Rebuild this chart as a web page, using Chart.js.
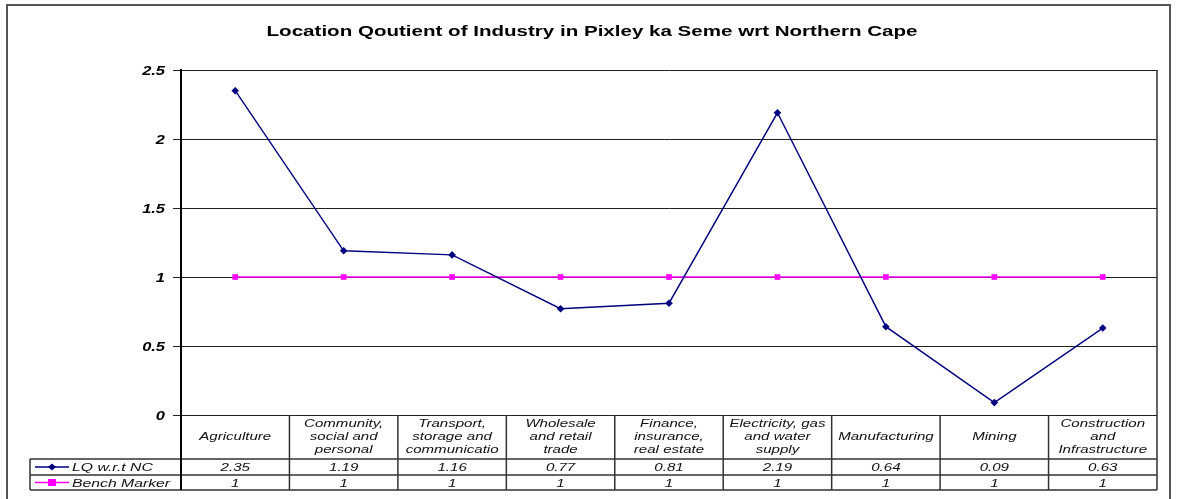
<!DOCTYPE html>
<html>
<head>
<meta charset="utf-8">
<script src="https://cdn.jsdelivr.net/npm/chart.js@4/dist/chart.umd.min.js"></script>
<style>
html,body{margin:0;padding:0;background:#fff;}
canvas{display:block;}
</style>
</head>
<body>
<canvas id="c" width="1178" height="499"></canvas>
<script>
const chartTitle = "Location Qoutient of Industry in Pixley ka Seme wrt Northern Cape";
const categories = ["Agriculture", "Community, social and personal", "Transport, storage and communicatio", "Wholesale and retail trade", "Finance, insurance, real estate", "Electricity, gas and water supply", "Manufacturing", "Mining", "Construction and Infrastructure"];
const categoryLines = [["Agriculture"], ["Community,", "social and", "personal"], ["Transport,", "storage and", "communicatio"], ["Wholesale", "and retail", "trade"], ["Finance,", "insurance,", "real estate"], ["Electricity, gas", "and water", "supply"], ["Manufacturing"], ["Mining"], ["Construction", "and", "Infrastructure"]];
const lqValues = [2.35, 1.19, 1.16, 0.77, 0.81, 2.19, 0.64, 0.09, 0.63];
const lqLabels = ["2.35", "1.19", "1.16", "0.77", "0.81", "2.19", "0.64", "0.09", "0.63"];
const benchValues = [1, 1, 1, 1, 1, 1, 1, 1, 1];
const seriesNames = ["LQ w.r.t NC", "Bench Marker"];
const yTicks = [0, 0.5, 1, 1.5, 2, 2.5];
const yTickLabels = ["0", "0.5", "1", "1.5", "2", "2.5"];

const FONT = "'Liberation Sans', Arial, sans-serif";
const LQ_COLOR = "#000080";
const BENCH_COLOR = "#FF00FF";
const SX = 1.37;

function sText(ctx, text, x, y, align) {
  ctx.save();
  ctx.translate(x, y);
  ctx.scale(SX, 1);
  ctx.textAlign = align;
  ctx.textBaseline = 'middle';
  ctx.fillText(text, 0, 0);
  ctx.restore();
}

const tablePlugin = {
  id: 'tablePlugin',
  afterDraw(chart) {
    const ctx = chart.ctx;
    const ca = chart.chartArea;
    const x = chart.scales.x;
    const y = chart.scales.y;
    const n = categories.length;
    const colW = (ca.right - ca.left) / n;
    const rowTop = ca.bottom, row1 = ca.bottom + 44, row2 = row1 + 16, row3 = row2 + 15;
    const legLeft = 30;
    ctx.save();
    // outer frame
    ctx.strokeStyle = '#555';
    ctx.lineWidth = 2;
    ctx.strokeRect(7, 5, 1163, 520);
    // title
    ctx.fillStyle = '#000';
    ctx.font = "bold 15px " + FONT;
    sText(ctx, chartTitle, 592, 32, 'center');
    // y tick labels
    ctx.font = "italic bold 12px " + FONT;
    yTicks.forEach((v, i) => sText(ctx, yTickLabels[i], 165, y.getPixelForValue(v) + 2, 'right'));
    // right border of plot
    ctx.strokeStyle = '#333';
    ctx.lineWidth = 1.5;
    ctx.beginPath();
    ctx.moveTo(ca.right, ca.top); ctx.lineTo(ca.right, row3);
    ctx.stroke();
    // table lines
    ctx.beginPath();
    for (let i = 1; i < n; i++) {
      const xx = ca.left + i * colW;
      ctx.moveTo(xx, rowTop); ctx.lineTo(xx, row3);
    }
    ctx.moveTo(legLeft, row1); ctx.lineTo(ca.right, row1);
    ctx.moveTo(legLeft, row2); ctx.lineTo(ca.right, row2);
    ctx.moveTo(legLeft, row3); ctx.lineTo(ca.right, row3);
    ctx.moveTo(legLeft, row1); ctx.lineTo(legLeft, row3);
    ctx.stroke();
    ctx.strokeStyle = '#000';
    ctx.lineWidth = 2;
    ctx.beginPath();
    ctx.moveTo(ca.left, rowTop); ctx.lineTo(ca.left, row3);
    ctx.stroke();
    // category text
    ctx.fillStyle = '#111';
    ctx.font = "italic 11px " + FONT;
    const midCat = (rowTop + row1) / 2;
    categoryLines.forEach((lines, i) => {
      const cx = x.getPixelForValue(i);
      const lh = 13;
      const start = midCat - (lines.length - 1) * lh / 2;
      lines.forEach((t, k) => sText(ctx, t, cx, start + k * lh, 'center'));
      sText(ctx, lqLabels[i], cx, (row1 + row2) / 2 + 1, 'center');
      sText(ctx, String(benchValues[i]), cx, (row2 + row3) / 2 + 1, 'center');
    });
    // legend cells
    ctx.font = "italic 11.5px " + FONT;
    const ly1 = (row1 + row2) / 2, ly2 = (row2 + row3) / 2;
    ctx.strokeStyle = LQ_COLOR; ctx.lineWidth = 1.3;
    ctx.beginPath(); ctx.moveTo(35, ly1); ctx.lineTo(69, ly1); ctx.stroke();
    ctx.fillStyle = LQ_COLOR;
    ctx.beginPath(); ctx.moveTo(52, ly1 - 3.5); ctx.lineTo(56, ly1); ctx.lineTo(52, ly1 + 3.5); ctx.lineTo(48, ly1); ctx.closePath(); ctx.fill();
    ctx.strokeStyle = BENCH_COLOR; ctx.lineWidth = 1.5;
    ctx.beginPath(); ctx.moveTo(35, ly2); ctx.lineTo(69, ly2); ctx.stroke();
    ctx.fillStyle = BENCH_COLOR;
    ctx.fillRect(48, ly2 - 3.5, 8, 7);
    ctx.fillStyle = '#111';
    sText(ctx, seriesNames[0], 72, ly1 + 1, 'left');
    sText(ctx, seriesNames[1], 72, ly2 + 1, 'left');
    ctx.restore();
  }
};

new Chart(document.getElementById('c'), {
  type: 'line',
  data: {
    labels: categories,
    datasets: [
      {
        label: seriesNames[0], data: lqValues,
        borderColor: LQ_COLOR, backgroundColor: LQ_COLOR, borderWidth: 1.4,
        pointStyle: 'rectRot', pointRadius: 3.8, pointBorderWidth: 0,
        tension: 0, fill: false, order: 1
      },
      {
        label: seriesNames[1], data: benchValues,
        borderColor: BENCH_COLOR, backgroundColor: BENCH_COLOR, borderWidth: 1.5,
        pointStyle: 'rect', pointRadius: 4, pointBorderWidth: 0,
        tension: 0, fill: false, order: 2
      }
    ]
  },
  options: {
    responsive: false,
    animation: false,
    layout: { padding: { left: 121, top: 70, right: 21, bottom: 84 } },
    plugins: { legend: { display: false }, title: { display: false }, tooltip: { enabled: false } },
    scales: {
      x: { display: false, offset: true },
      y: {
        min: 0, max: 2.5,
        afterFit: s => { s.width = 60; },
        afterBuildTicks: s => { s.ticks = yTicks.map(v => ({ value: v })); },
        ticks: { display: false },
        grid: { color: '#222', lineWidth: 1, tickLength: 8, drawTicks: true },
        border: { display: true, color: '#000', width: 2 }
      }
    }
  },
  plugins: [tablePlugin]
});
</script>
</body>
</html>
